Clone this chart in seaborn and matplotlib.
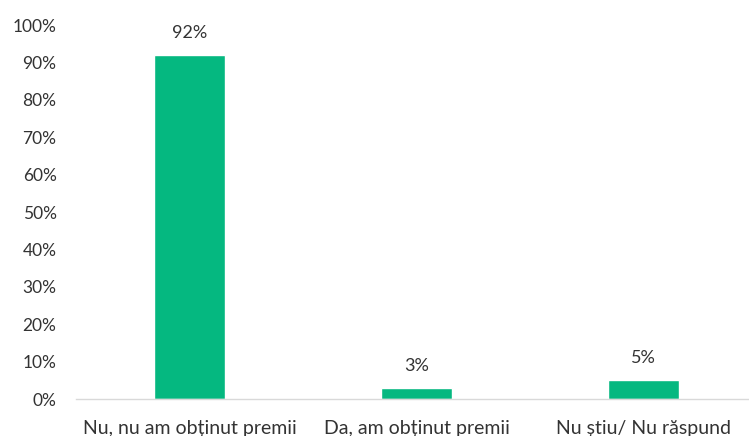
import matplotlib
matplotlib.use("Agg")
import matplotlib.pyplot as plt
import matplotlib.ticker as mtick
import seaborn as sns
import pandas as pd

categories = ["Nu, nu am obținut premii", "Da, am obținut premii", "Nu știu/ Nu răspund"]
values = [0.92, 0.03, 0.05]

sns.set_style("white")
plt.rcParams['font.family'] = ['Lato', 'DejaVu Sans']

df = pd.DataFrame({"cat": categories, "val": values})

fig = plt.figure(figsize=(7.49, 4.36), dpi=100)
ax = fig.add_axes([76 / 749, 37 / 436, 681 / 749, 374 / 436])

sns.barplot(data=df, x="cat", y="val", color="#05B880", width=0.31,
            saturation=1, ax=ax)

for p, v in zip(ax.patches, values):
    ax.annotate(f"{v:.0%}", (p.get_x() + p.get_width() / 2, p.get_height()),
                xytext=(0, 10), textcoords="offset points",
                ha="center", va="bottom", fontsize=13, color="#333333")

ax.set_ylim(0, 1)
ax.set_yticks([i / 10 for i in range(11)])
ax.yaxis.set_major_formatter(mtick.PercentFormatter(1.0, decimals=0))
ax.set_xlabel("")
ax.set_ylabel("")
ax.tick_params(axis="both", length=0, labelcolor="#333333")
ax.tick_params(axis="x", pad=15, labelsize=14)
ax.tick_params(axis="y", pad=14, labelsize=12.5)

for s in ["top", "right", "left"]:
    ax.spines[s].set_visible(False)
ax.spines["bottom"].set_color("#D9D9D9")
ax.spines["bottom"].set_linewidth(1)

fig.savefig("out.png", dpi=100)
